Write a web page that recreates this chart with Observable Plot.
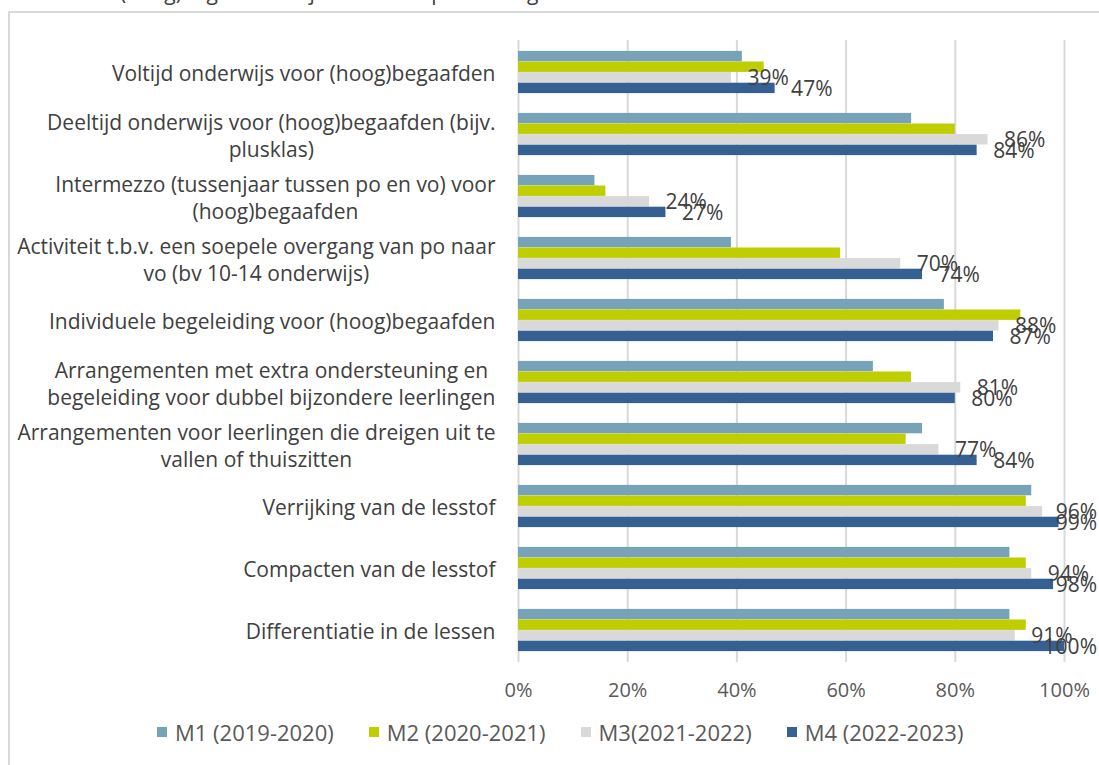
<!DOCTYPE html>
<html>
<head>
<meta charset="utf-8">
<script src="https://cdn.jsdelivr.net/npm/d3@7"></script>
<script src="https://cdn.jsdelivr.net/npm/@observablehq/plot@0.6"></script>
<style>
  html, body { margin: 0; padding: 0; background: #fff; }
  #page { position: relative; width: 1099px; height: 765px; overflow: hidden; font-family: "Open Sans", sans-serif; }
  #cut-title { position: absolute; left: 120px; top: -20px; font-size: 21px; line-height: 24px; color: #404040; white-space: nowrap; }
  #frame { position: absolute; left: 8px; top: 11px; width: 1200px; height: 800px; border: 2px solid #d9d9d9; box-sizing: border-box; }
  #chart { position: absolute; left: 0; top: 0; }
  #legend { position: absolute; left: 157px; top: 717px; display: flex; align-items: center; gap: 35px; font-size: 22px; color: #595959; white-space: nowrap; }
  .item { display: flex; align-items: center; }
  .sw { width: 10px; height: 10px; margin-right: 8px; }
</style>
</head>
<body>
<div id="page">
  <div id="cut-title">(hoog)begaafden bij de scholen per meting</div>
  <div id="frame"></div>
  <div id="chart"></div>
  <div id="legend"></div>
</div>
<script>
const categories = [
  "Voltijd onderwijs voor (hoog)begaafden",
  "Deeltijd onderwijs voor (hoog)begaafden (bijv.\nplusklas)",
  "Intermezzo (tussenjaar tussen po en vo) voor\n(hoog)begaafden",
  "Activiteit t.b.v. een soepele overgang van po naar\nvo (bv 10-14 onderwijs)",
  "Individuele begeleiding voor (hoog)begaafden",
  "Arrangementen met extra ondersteuning en\nbegeleiding voor dubbel bijzondere leerlingen",
  "Arrangementen voor leerlingen die dreigen uit te\nvallen of thuiszitten",
  "Verrijking van de lesstof",
  "Compacten van de lesstof",
  "Differentiatie in de lessen"
];
const seriesNames = ["M1 (2019-2020)", "M2 (2020-2021)", "M3(2021-2022)", "M4 (2022-2023)"];
const m1 = [41, 72, 14, 39, 78, 65, 74, 94, 90, 90];
const m2 = [45, 80, 16, 59, 92, 72, 71, 93, 93, 93];
const m3 = [39, 86, 24, 70, 88, 81, 77, 96, 94, 91];
const m4 = [47, 84, 27, 74, 87, 80, 84, 99, 98, 100];
const seriesColors = ["#78a2b7", "#bfce00", "#d9d9d9", "#366092"];
const labelledSeries = [2, 3];
const xTicks = [0, 20, 40, 60, 80, 100];

const seriesValues = [m1, m2, m3, m4];
const rows = [];
seriesValues.forEach((vals, s) => vals.forEach((v, i) => rows.push({cat: categories[i], s, series: seriesNames[s], value: v})));

const W = 1099, H = 710, mT = 40, mB = 48, mL = 518, mR = 35;
const bw = (H - mT - mB) / categories.length;
const barH = 10.6;
const pad = (bw - seriesNames.length * barH) / 2;

const marks = [
  Plot.ruleX(xTicks, {stroke: "#d9d9d9", strokeWidth: 2})
];
seriesNames.forEach((name, s) => {
  marks.push(Plot.barX(rows.filter(d => d.s === s), {
    x: "value", y: "cat", fill: seriesColors[s],
    insetTop: pad + s * barH, insetBottom: bw - pad - (s + 1) * barH
  }));
});
labelledSeries.forEach(s => {
  marks.push(Plot.text(rows.filter(d => d.s === s), {
    x: "value", y: "cat", text: d => d.value + "%",
    textAnchor: "start", dx: 16, dy: pad + (s + 0.5) * barH - bw / 2 + 0.5,
    fill: "#404040", fontSize: 21
  }));
});
marks.push(Plot.text(categories, {
  y: d => d, text: d => d, frameAnchor: "left", textAnchor: "end", dx: -23,
  lineHeight: 1.3, fill: "#404040", fontSize: 21
}));
marks.push(Plot.axisX(xTicks, {
  tickSize: 0, tickPadding: 20, tickFormat: d => d + "%", fontSize: 20, fill: "#595959", label: null
}));

const chart = Plot.plot({
  width: W, height: H,
  marginTop: mT, marginBottom: mB, marginLeft: mL, marginRight: mR,
  style: {fontFamily: "Open Sans", fontSize: "20px", background: "transparent", overflow: "visible"},
  x: {domain: [0, 100], label: null},
  y: {domain: categories, padding: 0, axis: null},
  marks
});
document.getElementById("chart").appendChild(chart);

// text-mark groups in mark order: value labels (M3, M4), then category labels
const textGroups = Array.from(chart.querySelectorAll(':scope > g[aria-label="text"]'));
const valueGroups = textGroups.slice(0, labelledSeries.length);
const catGroup = textGroups[labelledSeries.length];

// center lines of multi-line category labels within their block
if (catGroup) catGroup.querySelectorAll("text").forEach(t => {
  const spans = t.querySelectorAll("tspan");
  if (spans.length > 1) {
    const maxW = Math.max(...Array.from(spans, sp => sp.getComputedTextLength()));
    t.setAttribute("text-anchor", "middle");
    spans.forEach(sp => sp.setAttribute("x", -maxW / 2));
  }
});
// keep value labels inside the chart area on the right
const svgRect = chart.getBoundingClientRect();
valueGroups.forEach(g => g.querySelectorAll("text").forEach(t => {
  const r = t.getBoundingClientRect();
  const right = r.right - svgRect.left;
  if (right > 1097) {
    const tr = t.getAttribute("transform") || "";
    t.setAttribute("transform", tr + ` translate(${-(right - 1097)},0)`);
  }
}));

const legend = document.getElementById("legend");
seriesNames.forEach((name, s) => {
  const it = document.createElement("div");
  it.className = "item";
  const sw = document.createElement("div");
  sw.className = "sw";
  sw.style.background = seriesColors[s];
  const tx = document.createElement("span");
  tx.textContent = name;
  it.appendChild(sw); it.appendChild(tx);
  legend.appendChild(it);
});
</script>
</body>
</html>
